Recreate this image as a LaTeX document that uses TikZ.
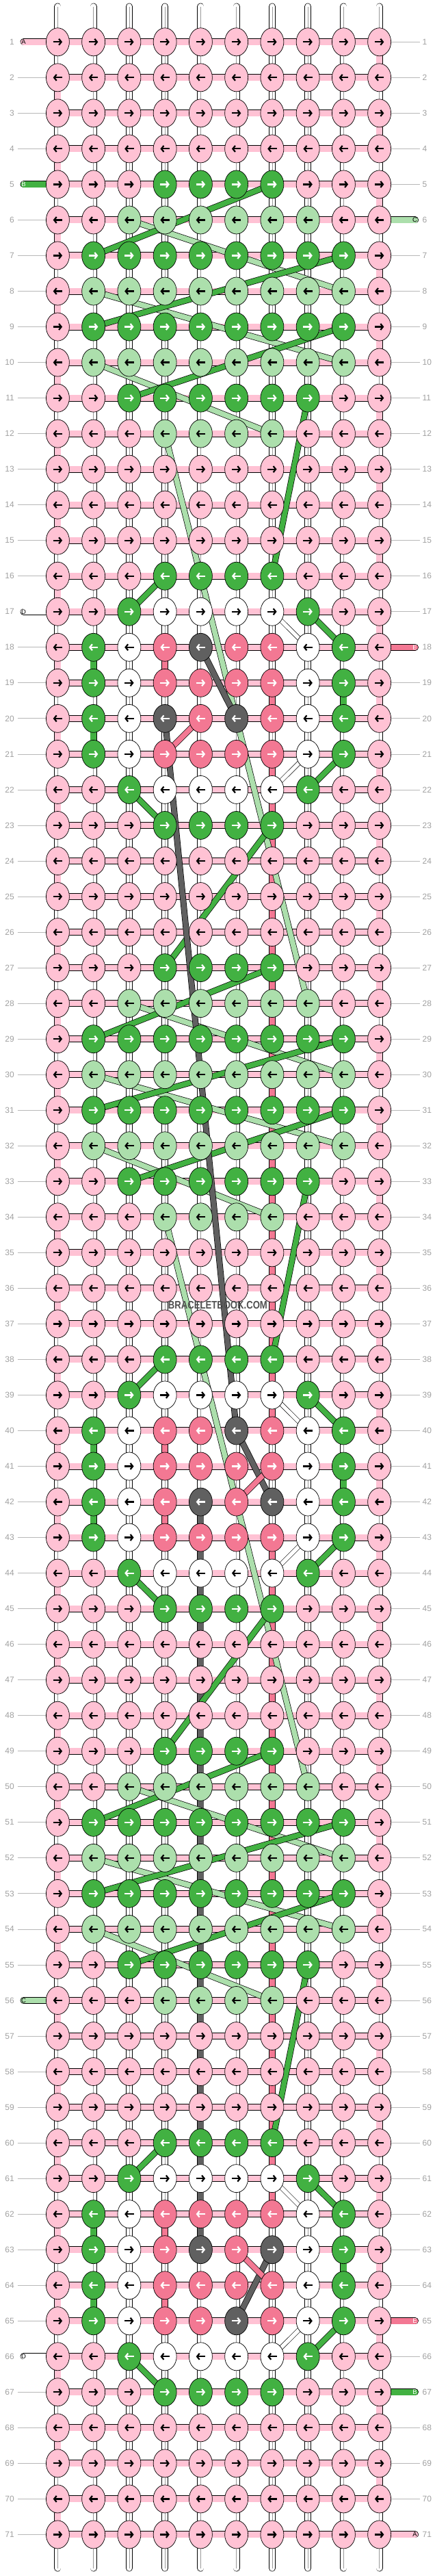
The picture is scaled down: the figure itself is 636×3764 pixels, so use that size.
\documentclass[tikz,border=0pt]{standalone}
\usepackage{fontspec}
\setmainfont{Liberation Sans}
\usetikzlibrary{shapes.geometric,arrows.meta,calc}
\pgfdeclarelayer{warp}
\pgfdeclarelayer{conn}
\pgfdeclarelayer{band}
\pgfsetlayers{warp,conn,band,main}
\definecolor{kP}{HTML}{FFC2D4}
\definecolor{kG}{HTML}{42B142}
\definecolor{kL}{HTML}{ACDFAC}
\definecolor{kW}{HTML}{FFFFFF}
\definecolor{kH}{HTML}{F37893}
\definecolor{kD}{HTML}{606060}
\colorlet{aP}{black}
\colorlet{aL}{black}
\colorlet{aW}{black}
\colorlet{aG}{white}
\colorlet{aH}{white}
\colorlet{aD}{white}
\definecolor{numgray}{HTML}{A0A0A0}
\definecolor{linegray}{HTML}{B8B8B8}
\definecolor{wmgray}{HTML}{505050}
\def\patRP{P,P,P,P,P,P,P,P,P,P}
\def\patRA{P,P,P,G,G,G,G,P,P,P}
\def\patRB{P,P,L,L,L,L,L,L,P,P}
\def\patRC{P,G,G,G,G,G,G,G,G,P}
\def\patRD{P,L,L,L,L,L,L,L,L,P}
\def\patRE{P,P,G,G,G,G,G,G,P,P}
\def\patRF{P,P,P,L,L,L,L,P,P,P}
\def\patRW{P,P,G,W,W,W,W,G,P,P}
\def\patRH{P,G,W,H,H,H,H,W,G,P}
\def\patMA{P,G,W,H,D,H,H,W,G,P}
\def\patMB{P,G,W,D,H,D,H,W,G,P}
\def\patMC{P,G,W,H,H,D,H,W,G,P}
\def\patMD{P,G,W,H,D,H,D,W,G,P}
\begin{document}
\begin{tikzpicture}[x=1pt,y=-1pt,
  knot/.style={ellipse, draw=black, line width=0.7pt, minimum width=34pt, minimum height=41pt, inner sep=0pt},
  arr/.style={draw=#1, line width=2.2pt, -{Straight Barb[length=3.6pt,width=9pt]}},
  strand/.style={draw=black, line width=0.7pt, double=#1, double distance=7.6pt},
  wstrand/.style={draw=black, line width=0.6pt, double=white, double distance=5.6pt},
  vseg/.style={draw=black, line width=0.7pt, double=#1, double distance=8.6pt},
  warpstr/.style={draw=black, line width=0.7pt, double=white, double distance=8.6pt, line cap=round},
  warpmid/.style={draw=black!40, line width=0.5pt},
  conn/.style={draw=black, line width=0.7pt, double=kP, double distance=8.6pt},
  tabstr/.style={draw=black, line width=0.7pt, double=#1, double distance=8.6pt, line cap=round},
  numtxt/.style={text=numgray, font=\fontsize{12}{12}\selectfont, inner sep=0pt},
  numline/.style={draw=linegray, line width=0.8pt},
  tabtxt/.style={text=#1, font=\fontsize{9.5}{9.5}\selectfont, inner sep=0pt},
]
\useasboundingbox (0,0) rectangle (636,3764);

% knots
\foreach \r/\p in {1/RP,2/RP,3/RP,4/RP,5/RA,6/RB,7/RC,8/RD,9/RC,10/RD,11/RE,12/RF,13/RP,14/RP,15/RP,16/RA,17/RW,18/MA,19/RH,20/MB,21/RH,22/RW,23/RA,24/RP,25/RP,26/RP,27/RA,28/RB,29/RC,30/RD,31/RC,32/RD,33/RE,34/RF,35/RP,36/RP,37/RP,38/RA,39/RW,40/MC,41/RH,42/MD,43/RH,44/RW,45/RA,46/RP,47/RP,48/RP,49/RA,50/RB,51/RC,52/RD,53/RC,54/RD,55/RE,56/RF,57/RP,58/RP,59/RP,60/RA,61/RW,62/RH,63/MD,64/RH,65/MC,66/RW,67/RA,68/RP,69/RP,70/RP,71/RP}{
  \edef\pat{\csname pat\p\endcsname}
  \pgfmathsetmacro{\Y}{61.3+52.03*(\r-1)}
  \foreach \k [count=\c] in \pat {
    \pgfmathsetmacro{\X}{84.4+52.25*(\c-1)}
    \node[knot, fill=k\k] (k-\r-\c) at (\X,\Y) {};
    \ifodd\r\relax
      \draw[arr=a\k] (\X-6.7,\Y) -- (\X+6.7,\Y);
    \else
      \draw[arr=a\k] (\X+6.7,\Y) -- (\X-6.7,\Y);
    \fi
  }
}

% warp strings, number lines, numbers
\begin{pgfonlayer}{warp}
\foreach \c in {1,...,10}{
  \pgfmathsetmacro{\X}{84.4+52.25*(\c-1)}
  \coordinate (wt-\c) at (\X,9.5);
  \coordinate (wb-\c) at (\X,3752.5);
  \draw[warpstr] (wt-\c) -- (wb-\c);
  \draw[warpmid] (wt-\c) -- (wb-\c);
}
\foreach \r in {1,...,71}{
  \pgfmathsetmacro{\Y}{61.3+52.03*(\r-1)}
  \node[numtxt, anchor=east] (nl-\r) at (21,\Y) {\r};
  \node[numtxt, anchor=west] (nr-\r) at (617.5,\Y) {\r};
  \pgfmathparse{(\r==1)||(\r==5)||(\r==17)||(\r==56)||(\r==66)}
  \ifnum\pgfmathresult=0
    \coordinate (gl-\r) at (25.7,\Y);
    \draw[numline] (gl-\r) -- (k-\r-1.center);
  \fi
  \pgfmathparse{(\r==6)||(\r==18)||(\r==65)||(\r==67)||(\r==71)}
  \ifnum\pgfmathresult=0
    \coordinate (gr-\r) at (613.5,\Y);
    \draw[numline] (k-\r-10.center) -- (gr-\r);
  \fi
}
\end{pgfonlayer}

% connectors, edge turns, vertical coloured segments, tabs
\begin{pgfonlayer}{conn}
\foreach \r in {1,...,71}{
  \draw[conn] (k-\r-1.center) -- (k-\r-10.center);
}
\foreach \r in {1,3,...,69}{
  \pgfmathtruncatemacro{\rn}{\r+1}
  \draw[vseg=kP] (k-\r-10.center) -- (k-\rn-10.center);
}
\foreach \r in {2,4,...,70}{
  \pgfmathtruncatemacro{\rn}{\r+1}
  \draw[vseg=kP] (k-\r-1.center) -- (k-\rn-1.center);
}
\foreach \a/\b in {18-2/19-2,20-2/21-2,19-9/20-9,40-2/41-2,42-2/43-2,41-9/42-9,62-2/63-2,64-2/65-2,63-9/64-9}
  \draw[vseg=kG] (k-\a.center) -- (k-\b.center);
\foreach \a/\b in {18-4/19-4,19-7/20-7,21-7/40-7,40-4/41-4,42-4/43-4,43-7/62-7,62-4/63-4,64-4/65-4}
  \draw[vseg=kH] (k-\a.center) -- (k-\b.center);
\draw[vseg=kD] (k-42-5.center) -- (k-63-5.center);
% left tabs
\foreach \r/\col/\lab/\tc in {1/kP/A/black,5/kG/B/white,17/kW/D/black,56/kL/C/black,66/kW/D/black}{
  \pgfmathsetmacro{\Y}{61.3+52.03*(\r-1)}
  \coordinate (tl-\r) at (34.5,\Y);
  \draw[tabstr=\col] (tl-\r) -- (k-\r-1.center);
  \node[tabtxt=\tc] (tlt-\r) at (34.5,\Y) {\lab};
}
% right tabs
\foreach \r/\col/\lab/\tc in {6/kL/C/black,18/kH/E/white,65/kH/E/white,67/kG/B/white,71/kP/A/black}{
  \pgfmathsetmacro{\Y}{61.3+52.03*(\r-1)}
  \coordinate (tr-\r) at (607,\Y);
  \draw[tabstr=\col] (k-\r-10.center) -- (tr-\r);
  \node[tabtxt=\tc] (trt-\r) at (606.5,\Y) {\lab};
}
\end{pgfonlayer}

% travelling strands
\begin{pgfonlayer}{band}
\foreach \a/\b in {6-3/8-9,8-2/10-9,10-2/12-7,12-4/28-8,28-3/30-9,30-2/32-9,32-2/34-7,34-4/50-8,50-3/52-9,52-2/54-9,54-2/56-7}
  \draw[strand=kL] (k-\a.center) -- (k-\b.center);
\foreach \a/\b in {5-7/7-2,7-9/9-2,9-9/11-3,11-8/16-7,16-4/17-3,17-8/18-9,21-9/22-8,22-3/23-4,23-7/27-4,27-7/29-2,29-9/31-2,31-9/33-3,33-8/38-7,38-4/39-3,39-8/40-9,43-9/44-8,44-3/45-4,45-7/49-4,49-7/51-2,51-9/53-2,53-9/55-3,55-8/60-7,60-4/61-3,61-8/62-9,65-9/66-8,66-3/67-4}
  \draw[strand=kG] (k-\a.center) -- (k-\b.center);
\foreach \a/\b in {18-5/20-6,20-4/40-6,40-6/42-7,63-7/65-6}
  \draw[strand=kD] (k-\a.center) -- (k-\b.center);
\foreach \a/\b in {20-5/21-4,41-7/42-6,63-6/64-7}
  \draw[strand=kH] (k-\a.center) -- (k-\b.center);
\foreach \a/\b in {17-7/18-8,21-8/22-7,39-7/40-8,43-8/44-7,61-7/62-8,65-8/66-7}
  \draw[wstrand] (k-\a.center) -- (k-\b.center);
\end{pgfonlayer}

\node[text=wmgray, font=\bfseries\fontsize{16}{16}\selectfont, inner sep=0pt] (wm) at (318.4,1907.3) {\scalebox{0.82}[1]{BRACELETBOOK.COM}};
\end{tikzpicture}
\end{document}
